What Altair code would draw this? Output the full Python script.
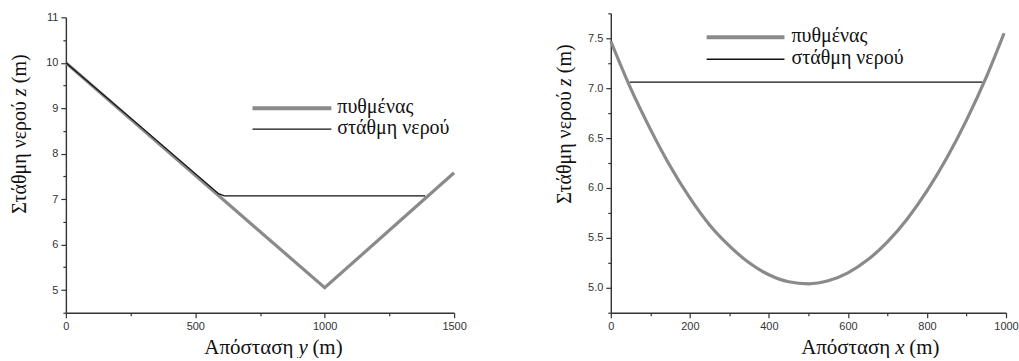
import altair as alt
import pandas as pd

# Left panel: cross-section along y
y_dist_bed = [0, 1000, 1500]
y_z_bed = [10.0, 5.05, 7.58]
y_dist_water = [0, 300, 590, 612, 1388]
y_z_water = [10.0, 8.54, 7.12, 7.07, 7.07]

# Right panel: cross-section along x
x_dist_bed = [0, 50, 100, 150, 200, 250, 300, 350, 400, 450, 500,
              550, 600, 650, 700, 750, 800, 850, 900, 950, 995]
x_z_bed = [7.47, 7.00, 6.59, 6.22, 5.90, 5.63, 5.42, 5.25, 5.13, 5.06, 5.04,
           5.07, 5.15, 5.28, 5.46, 5.69, 5.97, 6.30, 6.68, 7.11, 7.55]
x_dist_water = [48, 940]
x_z_water = [7.06, 7.06]

series_names = ["πυθμένας", "στάθμη νερού"]

BED_COLOR = "#8a8a8a"
WATER_COLOR = "#111111"
AXIS_COLOR = "#333333"
SERIF = "Liberation Serif, Times New Roman, DejaVu Serif, serif"
SANS = "Liberation Sans, Arial, sans-serif"

W_LEFT, W_RIGHT, H = 389, 396, 300


def axis(values, major_test, fmt):
    # every value gets a tick; only the major ones get a label and a longer tick
    return alt.Axis(
        values=values,
        tickCount=50,
        format=fmt,
        title="",
        grid=False,
        labelExpr=f"({major_test}) ? datum.label : ''",
        labelOverlap=False,
        labelFont=SANS,
        labelFontSize=11,
        labelColor=AXIS_COLOR,
        labelFlush=False,
        labelPadding=3,
        domainColor=AXIS_COLOR,
        domainWidth=1.4,
        tickColor=AXIS_COLOR,
        tickWidth=1.2,
        tickSize={"condition": {"test": major_test, "value": 5}, "value": 3},
    )


def one_row():
    return pd.DataFrame({"k": [0]})


def txt(s, x, y, size=20, italic=False, angle=None, align="left", baseline="alphabetic"):
    mk = dict(text=s, font=SERIF, fontSize=size, color="#111111", align=align, baseline=baseline)
    if italic:
        mk["fontStyle"] = "italic"
    if angle is not None:
        mk["angle"] = angle
    return alt.Chart(one_row()).mark_text(**mk).encode(x=alt.value(x), y=alt.value(y))


def legend(x0, x1, y_bed, y_water, tx):
    bed = alt.Chart(one_row()).mark_rule(color=BED_COLOR, strokeWidth=4).encode(
        x=alt.value(x0), x2=alt.value(x1), y=alt.value(y_bed))
    water = alt.Chart(one_row()).mark_rule(color=WATER_COLOR, strokeWidth=1.3).encode(
        x=alt.value(x0), x2=alt.value(x1), y=alt.value(y_water))
    t1 = txt(series_names[0], tx, y_bed + 5, size=20)
    t2 = txt(series_names[1], tx, y_water + 5, size=20)
    return [bed, water, t1, t2]


def xtitle(end_x, letter, y=341):
    return [
        txt("Απόσταση", end_x, y, size=21, align="right"),
        txt(letter, end_x + 5, y, size=21, italic=True),
        txt("(m)", end_x + 19, y, size=21),
    ]


def ytitle(end_y, x=-46):
    return [
        txt("Στάθμη νερού", x, end_y, angle=270, align="right", baseline="middle"),
        txt("z", x, end_y - 5, angle=270, italic=True, baseline="middle"),
        txt("(m)", x, end_y - 18, angle=270, baseline="middle"),
    ]


# ---- left panel
left_bed_df = pd.DataFrame({"d": y_dist_bed, "z": y_z_bed})
left_water_df = pd.DataFrame({"d": y_dist_water, "z": y_z_water})

lx = alt.X("d:Q", scale=alt.Scale(domain=[0, 1500], nice=False),
           axis=axis([0, 250, 500, 750, 1000, 1250, 1500], "datum.value % 500 === 0", "d"))
ly = alt.Y("z:Q", scale=alt.Scale(domain=[4.5, 11], range=[H, 4], nice=False, zero=False),
           axis=axis([4.5 + 0.5 * i for i in range(14)], "datum.value % 1 === 0", ".0f"))

left_bed = alt.Chart(left_bed_df).mark_line(color=BED_COLOR, strokeWidth=3.2).encode(x=lx, y=ly)
left_water = alt.Chart(left_water_df).mark_line(color=WATER_COLOR, strokeWidth=1.3).encode(x="d:Q", y="z:Q")

left = alt.layer(
    left_bed, left_water,
    *legend(187, 266, 95, 116, 272),
    *xtitle(228, "y"),
    *ytitle(88),
).properties(width=W_LEFT, height=H)

# ---- right panel
right_bed_df = pd.DataFrame({"d": x_dist_bed, "z": x_z_bed})
right_water_df = pd.DataFrame({"d": x_dist_water, "z": x_z_water})

rx = alt.X("d:Q", scale=alt.Scale(domain=[0, 1000], nice=False),
           axis=axis(list(range(0, 1001, 100)), "datum.value % 200 === 0", "d"))
ry = alt.Y("z:Q", scale=alt.Scale(domain=[4.75, 7.75], nice=False, zero=False),
           axis=axis([4.75 + 0.25 * i for i in range(13)], "datum.value % 0.5 === 0", ".1f"))

right_bed = alt.Chart(right_bed_df).mark_line(color=BED_COLOR, strokeWidth=3.2,
                                              interpolate="monotone").encode(x=rx, y=ry)
right_water = alt.Chart(right_water_df).mark_line(color=WATER_COLOR, strokeWidth=1.3).encode(x="d:Q", y="z:Q")

right = alt.layer(
    right_bed, right_water,
    *legend(96, 174, 24, 46, 181),
    *xtitle(280, "x"),
    *ytitle(78),
).properties(width=W_RIGHT, height=H)

chart = alt.hconcat(left, right, spacing=88).properties(
    padding={"left": 10, "top": 7, "right": 0, "bottom": 0},
    background="white",
).configure_view(stroke=None)

chart.save("out.html", embed_options={"renderer": "svg", "actions": False})
